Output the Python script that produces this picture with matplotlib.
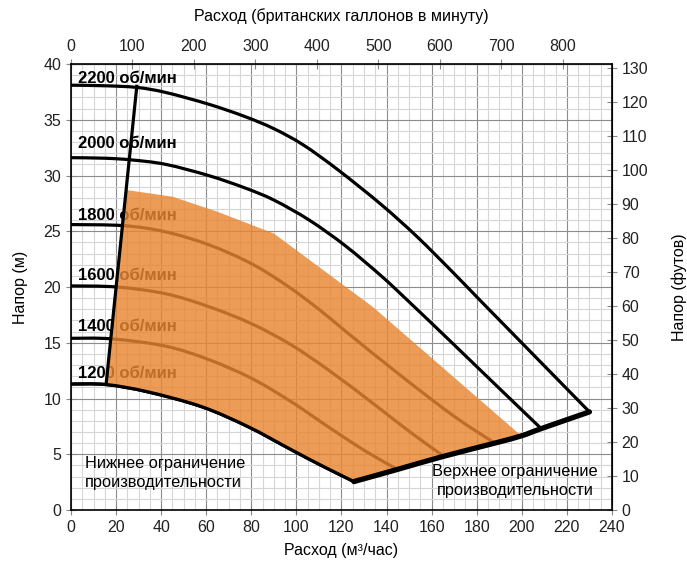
import numpy as np
import matplotlib.pyplot as plt
from matplotlib.path import Path
from matplotlib.patches import PathPatch
from matplotlib.ticker import MultipleLocator

plt.rcParams['font.family'] = ['Liberation Sans', 'DejaVu Sans']
plt.rcParams['font.size'] = 11.5

# pump curves: flow (m3/h) vs head (m)
rpm_labels = ["2200 об/мин", "2000 об/мин", "1800 об/мин", "1600 об/мин", "1400 об/мин", "1200 об/мин"]
label_heads = [38.7, 32.9, 26.4, 21.0, 16.5, 12.2]

q_2200 = [0, 15, 29.2, 42, 61, 77, 90, 103, 118.5, 137.6, 153.6, 169.5, 182, 201.4, 217.4, 230]
h_2200 = [38.1, 38.05, 37.9, 37.45, 36.4, 35.3, 34.2, 32.75, 30.5, 27.4, 24.5, 21.3, 18.7, 14.7, 11.4, 8.8]

q_2000 = [0, 15, 26.8, 42, 61, 77, 90, 105.7, 121.7, 137.6, 148.8, 168, 188, 208.6]
h_2000 = [31.6, 31.55, 31.4, 31.0, 30.0, 28.9, 27.8, 26.0, 23.7, 21.0, 18.9, 15.2, 11.3, 7.3]

q_1800 = [0, 23.6, 41.9, 61, 80, 96, 110, 122, 146, 170, 188]
h_1800 = [25.6, 25.5, 24.95, 23.8, 22.1, 20.1, 18.0, 16.0, 12.1, 8.4, 6.0]

q_1600 = [0, 20.4, 41.9, 61, 80.2, 97.8, 115.3, 134.4, 150.4, 165.5]
h_1600 = [20.1, 20.0, 19.4, 18.25, 16.7, 14.8, 12.4, 9.5, 7.0, 4.8]

q_1400 = [0, 18, 41.9, 61, 80.2, 97.8, 115.3, 131.3, 144.8]
h_1400 = [15.4, 15.35, 14.7, 13.5, 11.8, 9.7, 7.3, 5.2, 3.65]

q_1200 = [0, 15.6, 34, 57.9, 78.6, 97.8, 112, 125.5]
h_1200 = [11.3, 11.25, 10.6, 9.27, 7.47, 5.4, 3.9, 2.55]

# limits
q_min_line = [15.6, 29.2]
h_min_line = [11.3, 38.0]

q_max_line = [125.5, 145, 165, 188, 199.8, 208.6, 230]
h_max_line = [2.55, 3.65, 4.8, 6.0, 6.65, 7.3, 8.8]

# top edge of the working area
q_area_top = [24.6, 45, 64.3, 90, 134, 199.8]
h_area_top = [28.7, 28.1, 26.8, 24.8, 18.2, 6.65]

M3H_TO_IGPM = 3.6662
M_TO_FT = 3.28084


def smooth_line(ax, xs, ys, **kw):
    # smoothed line through the points (like excel's smoothed scatter)
    p = np.column_stack([xs, ys]).astype(float)
    n = len(p)
    verts = [p[0]]
    codes = [Path.MOVETO]
    for i in range(n - 1):
        p0 = p[max(i - 1, 0)]
        p1 = p[i]
        p2 = p[i + 1]
        p3 = p[min(i + 2, n - 1)]
        verts += [p1 + (p2 - p0) / 6, p2 - (p3 - p1) / 6, p2]
        codes += [Path.CURVE4] * 3
    patch = PathPatch(Path(verts, codes), fill=False, **kw)
    ax.add_patch(patch)
    return patch


fig = plt.figure(figsize=(6.87, 5.62), dpi=100)
ax = fig.add_axes([0.1033, 0.0925, 0.7875, 0.7936])

ax.set_xlim(0, 240)
ax.set_ylim(0, 40)
ax.xaxis.set_major_locator(MultipleLocator(20))
ax.xaxis.set_minor_locator(MultipleLocator(5))
ax.yaxis.set_major_locator(MultipleLocator(5))
ax.yaxis.set_minor_locator(MultipleLocator(1))
ax.grid(which='major', color='#8c8c8c', lw=0.8, zorder=0)
ax.grid(which='minor', color='#d6d6d6', lw=0.8, zorder=0)
ax.set_axisbelow(True)
ax.tick_params(which='major', direction='inout', length=7, color='#888888', labelcolor='#222222')
ax.tick_params(which='minor', length=0)
for s in ax.spines.values():
    s.set_color('black')
    s.set_linewidth(1.2)

# all rpm curves in black, the fill goes over their inner parts
curves = [(q_2200, h_2200), (q_2000, h_2000), (q_1800, h_1800),
          (q_1600, h_1600), (q_1400, h_1400), (q_1200, h_1200)]
for q, h in curves:
    smooth_line(ax, q, h, edgecolor='black', lw=2.3, zorder=2, capstyle='round', joinstyle='round')

for txt, hy in zip(rpm_labels, label_heads):
    ax.text(3.2, hy, txt, fontsize=12, fontweight='bold', va='center', ha='left', zorder=3)

# working area polygon
poly_q = list(q_area_top) + q_max_line[:5][::-1] + q_1200[1:][::-1]
poly_h = list(h_area_top) + h_max_line[:5][::-1] + h_1200[1:][::-1]
ax.fill(poly_q, poly_h, color='#E88631', alpha=0.82, lw=0, zorder=4)

smooth_line(ax, q_1200, h_1200, edgecolor='black', lw=2.3, zorder=5, capstyle='round')
ax.plot(q_min_line, h_min_line, color='black', lw=2.3, zorder=5)
smooth_line(ax, q_max_line, h_max_line, edgecolor='black', lw=3.8, zorder=5, capstyle='round')

ax.text(6.2, 3.3, "Нижнее ограничение\nпроизводительности", ha='left', va='center',
        fontsize=11.8, linespacing=1.3, zorder=6)
ax.text(197, 2.6, "Верхнее ограничение\nпроизводительности", ha='center', va='center',
        fontsize=11.8, linespacing=1.3, zorder=6)

ax.set_xlabel("Расход (м³/час)", labelpad=6)
ax.set_ylabel("Напор (м)", labelpad=11)

top = ax.secondary_xaxis('top', functions=(lambda x: x * M3H_TO_IGPM, lambda x: x / M3H_TO_IGPM))
top.set_xticks(np.arange(0, 801, 100))
top.tick_params(direction='inout', length=7, color='#888888', labelcolor='#222222')
top.set_xlabel("Расход (британских галлонов в минуту)", labelpad=13)

right = ax.secondary_yaxis('right', functions=(lambda y: y * M_TO_FT, lambda y: y / M_TO_FT))
right.set_yticks(np.arange(0, 131, 10))
right.tick_params(direction='inout', length=7, color='#888888', labelcolor='#222222')
right.set_ylabel("Напор (футов)", labelpad=17)

fig.savefig("out.png", dpi=100)
